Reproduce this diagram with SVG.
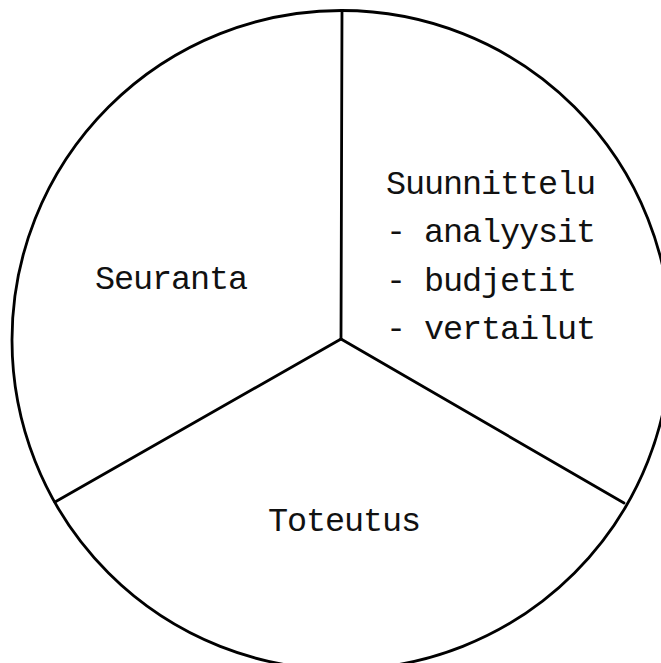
<svg xmlns="http://www.w3.org/2000/svg" width="661" height="663" viewBox="0 0 661 663">
<style>
.t{font-family:"Liberation Mono","DejaVu Sans Mono",monospace;font-size:33.5px;letter-spacing:-1.1px;fill:#111}
.s{fill:none;stroke:#000;stroke-width:2.8;stroke-linecap:round}
</style>
<rect width="661" height="663" fill="#fff"/>
<g id="circle"><ellipse class="s" cx="341.5" cy="340" rx="329.5" ry="329.5"/></g>
<g id="connectors">
<line class="s" x1="342" y1="11" x2="341" y2="339"/>
<line class="s" x1="341" y1="339" x2="55" y2="502"/>
<line class="s" x1="341" y1="339" x2="624" y2="503"/>
</g>
<g id="seuranta"><text class="t" x="95" y="289">Seuranta</text></g>
<g id="suunnittelu">
<text class="t" x="386" y="194">Suunnittelu</text>
<text class="t" x="386" y="242">- analyysit</text>
<text class="t" x="386" y="291">- budjetit</text>
<text class="t" x="386" y="339">- vertailut</text>
</g>
<g id="toteutus"><text class="t" x="268" y="531">Toteutus</text></g>
</svg>
